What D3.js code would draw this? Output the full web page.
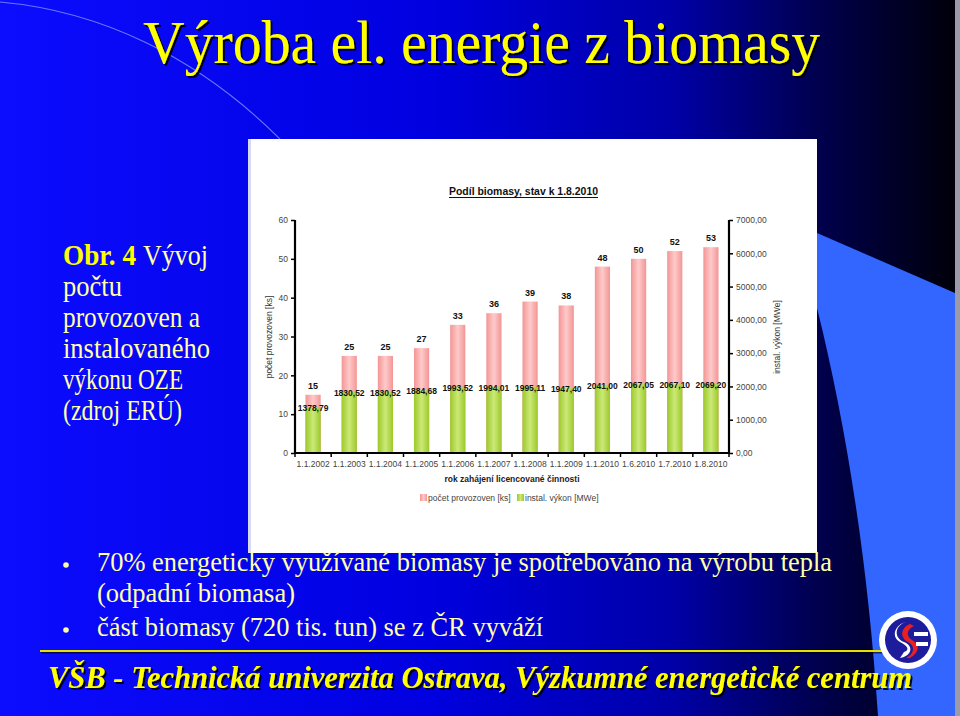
<!DOCTYPE html>
<html><head><meta charset="utf-8">
<script src="https://cdn.jsdelivr.net/npm/d3@7"></script>
<style>html,body{margin:0;padding:0;background:#000;}svg{display:block;}</style>
</head><body>
<svg id="s" width="960" height="716"></svg>
<script>
// ---- data ----
const categories = ["1.1.2002","1.1.2003","1.1.2004","1.1.2005","1.1.2006","1.1.2007","1.1.2008","1.1.2009","1.1.2010","1.6.2010","1.7.2010","1.8.2010"];
const countValues = [15,25,25,27,33,36,39,38,48,50,52,53];
const powerValues = [1378.79,1830.52,1830.52,1884.68,1993.52,1994.01,1995.11,1947.40,2041.00,2067.05,2067.10,2069.20];
const leftTicks = [0,10,20,30,40,50,60];
const rightTicks = [0,1000,2000,3000,4000,5000,6000,7000];
const seriesNames = ["počet provozoven [ks]","instal. výkon [MWe]"];
const chartTitle = "Podíl biomasy, stav k 1.8.2010";
const xTitle = "rok zahájení licencované činnosti";
const leftTitle = "počet provozoven [ks]";
const rightTitle = "instal. výkon [MWe]";
const slideTitle = "Výroba el. energie z biomasy";
const sideLines = ["počtu","provozoven a","instalovaného","výkonu OZE","(zdroj ERÚ)"];
const bullets = [["70% energeticky využívané biomasy je spotřebováno na výrobu tepla","(odpadní biomasa)"],["část biomasy (720 tis. tun) se z ČR vyváží"]];
const footer = "VŠB - Technická univerzita Ostrava, Výzkumné energetické centrum";

const svg = d3.select("#s");
const defs = svg.append("defs");
const serif = "'Liberation Serif','Times New Roman','DejaVu Serif',serif";

// background gradient
const bg = defs.append("linearGradient").attr("id","bg").attr("x1","0").attr("x2","1").attr("y1","0").attr("y2","0");
[[0,"#0c0cff"],[0.45,"#0000e0"],[0.7,"#0000a8"],[0.86,"#00004a"],[1,"#000008"]].forEach(([o,c])=>bg.append("stop").attr("offset",o).attr("stop-color",c));
const pg = defs.append("linearGradient").attr("id","pinkG").attr("x1","0").attr("x2","1");
[[0,"#f39595"],[0.5,"#ffcaca"],[1,"#f39595"]].forEach(([o,c])=>pg.append("stop").attr("offset",o).attr("stop-color",c));
const gg = defs.append("linearGradient").attr("id","greenG").attr("x1","0").attr("x2","1");
[[0,"#9cc92a"],[0.5,"#cbe978"],[1,"#9cc92a"]].forEach(([o,c])=>gg.append("stop").attr("offset",o).attr("stop-color",c));
const sh = defs.append("filter").attr("id","shadow").attr("x","-5%").attr("y","-10%").attr("width","110%").attr("height","130%");
sh.append("feDropShadow").attr("dx",2).attr("dy",2).attr("stdDeviation",0.6).attr("flood-color","#000").attr("flood-opacity",0.9);

svg.append("rect").attr("width",960).attr("height",716).attr("fill","url(#bg)");
// light blue decorative shape on the right
svg.append("path").attr("d","M817,233 L955,293 L955,716 L878,716 C868,560 845,420 817,308 Z").attr("fill","#3366ff");
// right border
svg.append("rect").attr("x",955).attr("y",0).attr("width",5).attr("height",716).attr("fill","#9a9aa8");
// faint arc top-left
svg.append("path").attr("d","M0,2 C90,10 200,50 300,160").attr("fill","none").attr("stroke","#8fa8ff").attr("stroke-width",1.2).attr("opacity",0.7);

// slide title
svg.append("text").text(slideTitle).attr("x",143).attr("y",63)
  .attr("font-family",serif).attr("font-size",61)
  .attr("fill","#ffff00").attr("textLength",677).attr("lengthAdjust","spacingAndGlyphs").attr("filter","url(#shadow)");

// side text
svg.append("text").text("Obr. 4").attr("x",63).attr("y",265).attr("font-family",serif).attr("font-size",30)
  .attr("font-weight","bold").attr("fill","#ffff00").attr("textLength",73).attr("lengthAdjust","spacingAndGlyphs");
svg.append("text").text("Vývoj").attr("x",143).attr("y",265).attr("font-family",serif).attr("font-size",30)
  .attr("fill","#ffffa8").attr("textLength",65).attr("lengthAdjust","spacingAndGlyphs");
const sideY = [296,327,358,389,420];
const sideW = [59,137,147,120,119];
sideLines.forEach((l,i)=>svg.append("text").text(l).attr("x",63).attr("y",sideY[i]).attr("font-family",serif).attr("font-size",30)
  .attr("fill","#ffffa8").attr("textLength",sideW[i]).attr("lengthAdjust","spacingAndGlyphs"));

// chart white panel
svg.append("rect").attr("x",248).attr("y",139).attr("width",569).attr("height",414).attr("fill","#ffffff");
svg.append("rect").attr("x",248).attr("y",139).attr("width",3).attr("height",414).attr("fill","#d8d8f4");

const cf = "'Liberation Sans',Arial,sans-serif";
const x0 = 295, x1 = 729, yTop = 220, yBot = 453;
const x = d3.scaleBand().domain(categories).range([x0,x1]).paddingInner(0.58).paddingOuter(0.29);
const yL = d3.scaleLinear().domain([0,60]).range([yBot,yTop]);
const yR = d3.scaleLinear().domain([0,7000]).range([yBot,yTop]);
const fmt = v => d3.format(".2f")(v).replace(".",",");

// chart title
svg.append("text").text(chartTitle).attr("x",449).attr("y",195)
  .attr("font-family",cf).attr("font-weight","bold").attr("font-size",10).attr("fill","#111")
  .attr("textLength",149).attr("lengthAdjust","spacingAndGlyphs");
svg.append("line").attr("x1",449).attr("x2",598).attr("y1",197.5).attr("y2",197.5).attr("stroke","#111").attr("stroke-width",1);

// bars
const g = svg.append("g");
g.selectAll(".pb").data(countValues).join("rect").attr("class","pb")
  .attr("x",(d,i)=>x(categories[i])).attr("width",x.bandwidth())
  .attr("y",d=>yL(d)).attr("height",d=>yBot-yL(d)).attr("fill","url(#pinkG)");
g.selectAll(".gb").data(powerValues).join("rect").attr("class","gb")
  .attr("x",(d,i)=>x(categories[i])).attr("width",x.bandwidth())
  .attr("y",d=>yR(d)).attr("height",d=>yBot-yR(d)).attr("fill","url(#greenG)");

// labels
g.selectAll(".cl").data(countValues).join("text").attr("class","cl").text(d=>d)
  .attr("x",(d,i)=>x(categories[i])+x.bandwidth()/2).attr("y",d=>yL(d)-6).attr("text-anchor","middle")
  .attr("font-family",cf).attr("font-weight","bold").attr("font-size",9).attr("fill","#111");
g.selectAll(".pl").data(powerValues).join("text").attr("class","pl").text(d=>fmt(d))
  .attr("x",(d,i)=>x(categories[i])+x.bandwidth()/2).attr("y",d=>yR(d)+4).attr("text-anchor","middle")
  .attr("font-family",cf).attr("font-weight","bold").attr("font-size",8.5).attr("fill","#111");

// axes
const axL = svg.append("g").attr("transform",`translate(${x0},0)`)
  .call(d3.axisLeft(yL).tickValues(leftTicks).tickSize(4).tickPadding(3));
const axR = svg.append("g").attr("transform",`translate(${x1},0)`)
  .call(d3.axisRight(yR).tickValues(rightTicks).tickSize(4).tickPadding(3).tickFormat(fmt));
const axB = svg.append("g").attr("transform",`translate(0,${yBot})`)
  .call(d3.axisBottom(x).tickSize(0).tickPadding(8));
[axL,axR,axB].forEach(a=>{
  a.select(".domain").attr("stroke","#000").attr("stroke-width",2.2);
  a.selectAll(".tick line").attr("stroke","#000").attr("stroke-width",1.5);
  a.selectAll("text").attr("font-family",cf).attr("font-size",8.5).attr("fill","#444");
});
axL.select(".domain").attr("d",`M0,${yTop}V${yBot}`);
axR.select(".domain").attr("d",`M0,${yTop}V${yBot}`);
axB.select(".domain").attr("d",`M${x0},0H${x1}`);
// category boundary ticks on x axis
const step = x.step();
const bounds = d3.range(categories.length+1).map(i=>x0 + i*step);
axB.selectAll(".bt").data(bounds).join("line").attr("class","bt")
  .attr("x1",d=>d).attr("x2",d=>d).attr("y1",0).attr("y2",4).attr("stroke","#000").attr("stroke-width",1.5);

// axis titles
svg.append("text").text(leftTitle).attr("transform","translate(272,337) rotate(-90)").attr("text-anchor","middle")
  .attr("font-family",cf).attr("font-size",8.5).attr("fill","#333");
svg.append("text").text(rightTitle).attr("transform","translate(780,337) rotate(-90)").attr("text-anchor","middle")
  .attr("font-family",cf).attr("font-size",8.5).attr("fill","#333");
svg.append("text").text(xTitle).attr("x",512).attr("y",482).attr("text-anchor","middle")
  .attr("font-family",cf).attr("font-weight","bold").attr("font-size",8.5).attr("fill","#222");

// legend
const lg = svg.append("g");
const legX = [420,517];
const legFill = ["url(#pinkG)","url(#greenG)"];
seriesNames.forEach((n,i)=>{
  lg.append("rect").attr("x",legX[i]).attr("y",494).attr("width",7).attr("height",7).attr("fill",legFill[i]);
  lg.append("text").text(n).attr("x",legX[i]+8).attr("y",501).attr("font-family",cf).attr("font-size",8.5).attr("fill","#444");
});

// bullets
const bY = [[571,602],[636]];
const bW = [[735,198],[446]];
const dotY = [565,630];
bullets.forEach((b,i)=>{
  svg.append("circle").attr("cx",66).attr("cy",dotY[i]).attr("r",2.8).attr("fill","#ffffa8");
  b.forEach((line,j)=>svg.append("text").text(line).attr("x",97).attr("y",bY[i][j]).attr("font-family",serif)
    .attr("font-size",28).attr("fill","#ffffa8").attr("textLength",bW[i][j]).attr("lengthAdjust","spacingAndGlyphs"));
});

// footer line
svg.append("line").attr("x1",40).attr("x2",882).attr("y1",651).attr("y2",651).attr("stroke","#000").attr("stroke-width",2).attr("opacity",0.6).attr("transform","translate(1,1.5)");
svg.append("line").attr("x1",40).attr("x2",882).attr("y1",651).attr("y2",651).attr("stroke","#e6e000").attr("stroke-width",2);

// logo
const lgo = svg.append("g").attr("transform","translate(908,640)");
lgo.append("circle").attr("r",29).attr("fill","#ffffff");
lgo.append("circle").attr("r",23).attr("fill","#1c1c9c");
lgo.append("path").attr("d","M-2,-18 C-14,-14 -14,-2 -4,2 C6,6 4,16 -8,18 L-4,12 C2,10 0,6 -8,2 C-18,-4 -12,-16 -2,-18 Z").attr("fill","#ffffff");
lgo.append("path").attr("d","M2,-16 C-8,-12 -8,-2 0,2 C8,6 6,14 -2,18 L2,18 C12,12 12,4 4,0 C-2,-4 -2,-10 6,-14 Z").attr("fill","#e82020");
lgo.append("rect").attr("x",6).attr("y",-8).attr("width",14).attr("height",4).attr("fill","#ffffff");
lgo.append("rect").attr("x",8).attr("y",2).attr("width",12).attr("height",4).attr("fill","#ffffff");

// footer text
svg.append("text").text(footer).attr("x",48).attr("y",688)
  .attr("font-family",serif).attr("font-weight","bold").attr("font-style","italic")
  .attr("font-size",32).attr("fill","#ffff00").attr("textLength",864).attr("lengthAdjust","spacingAndGlyphs").attr("filter","url(#shadow)");
</script>
</body></html>
